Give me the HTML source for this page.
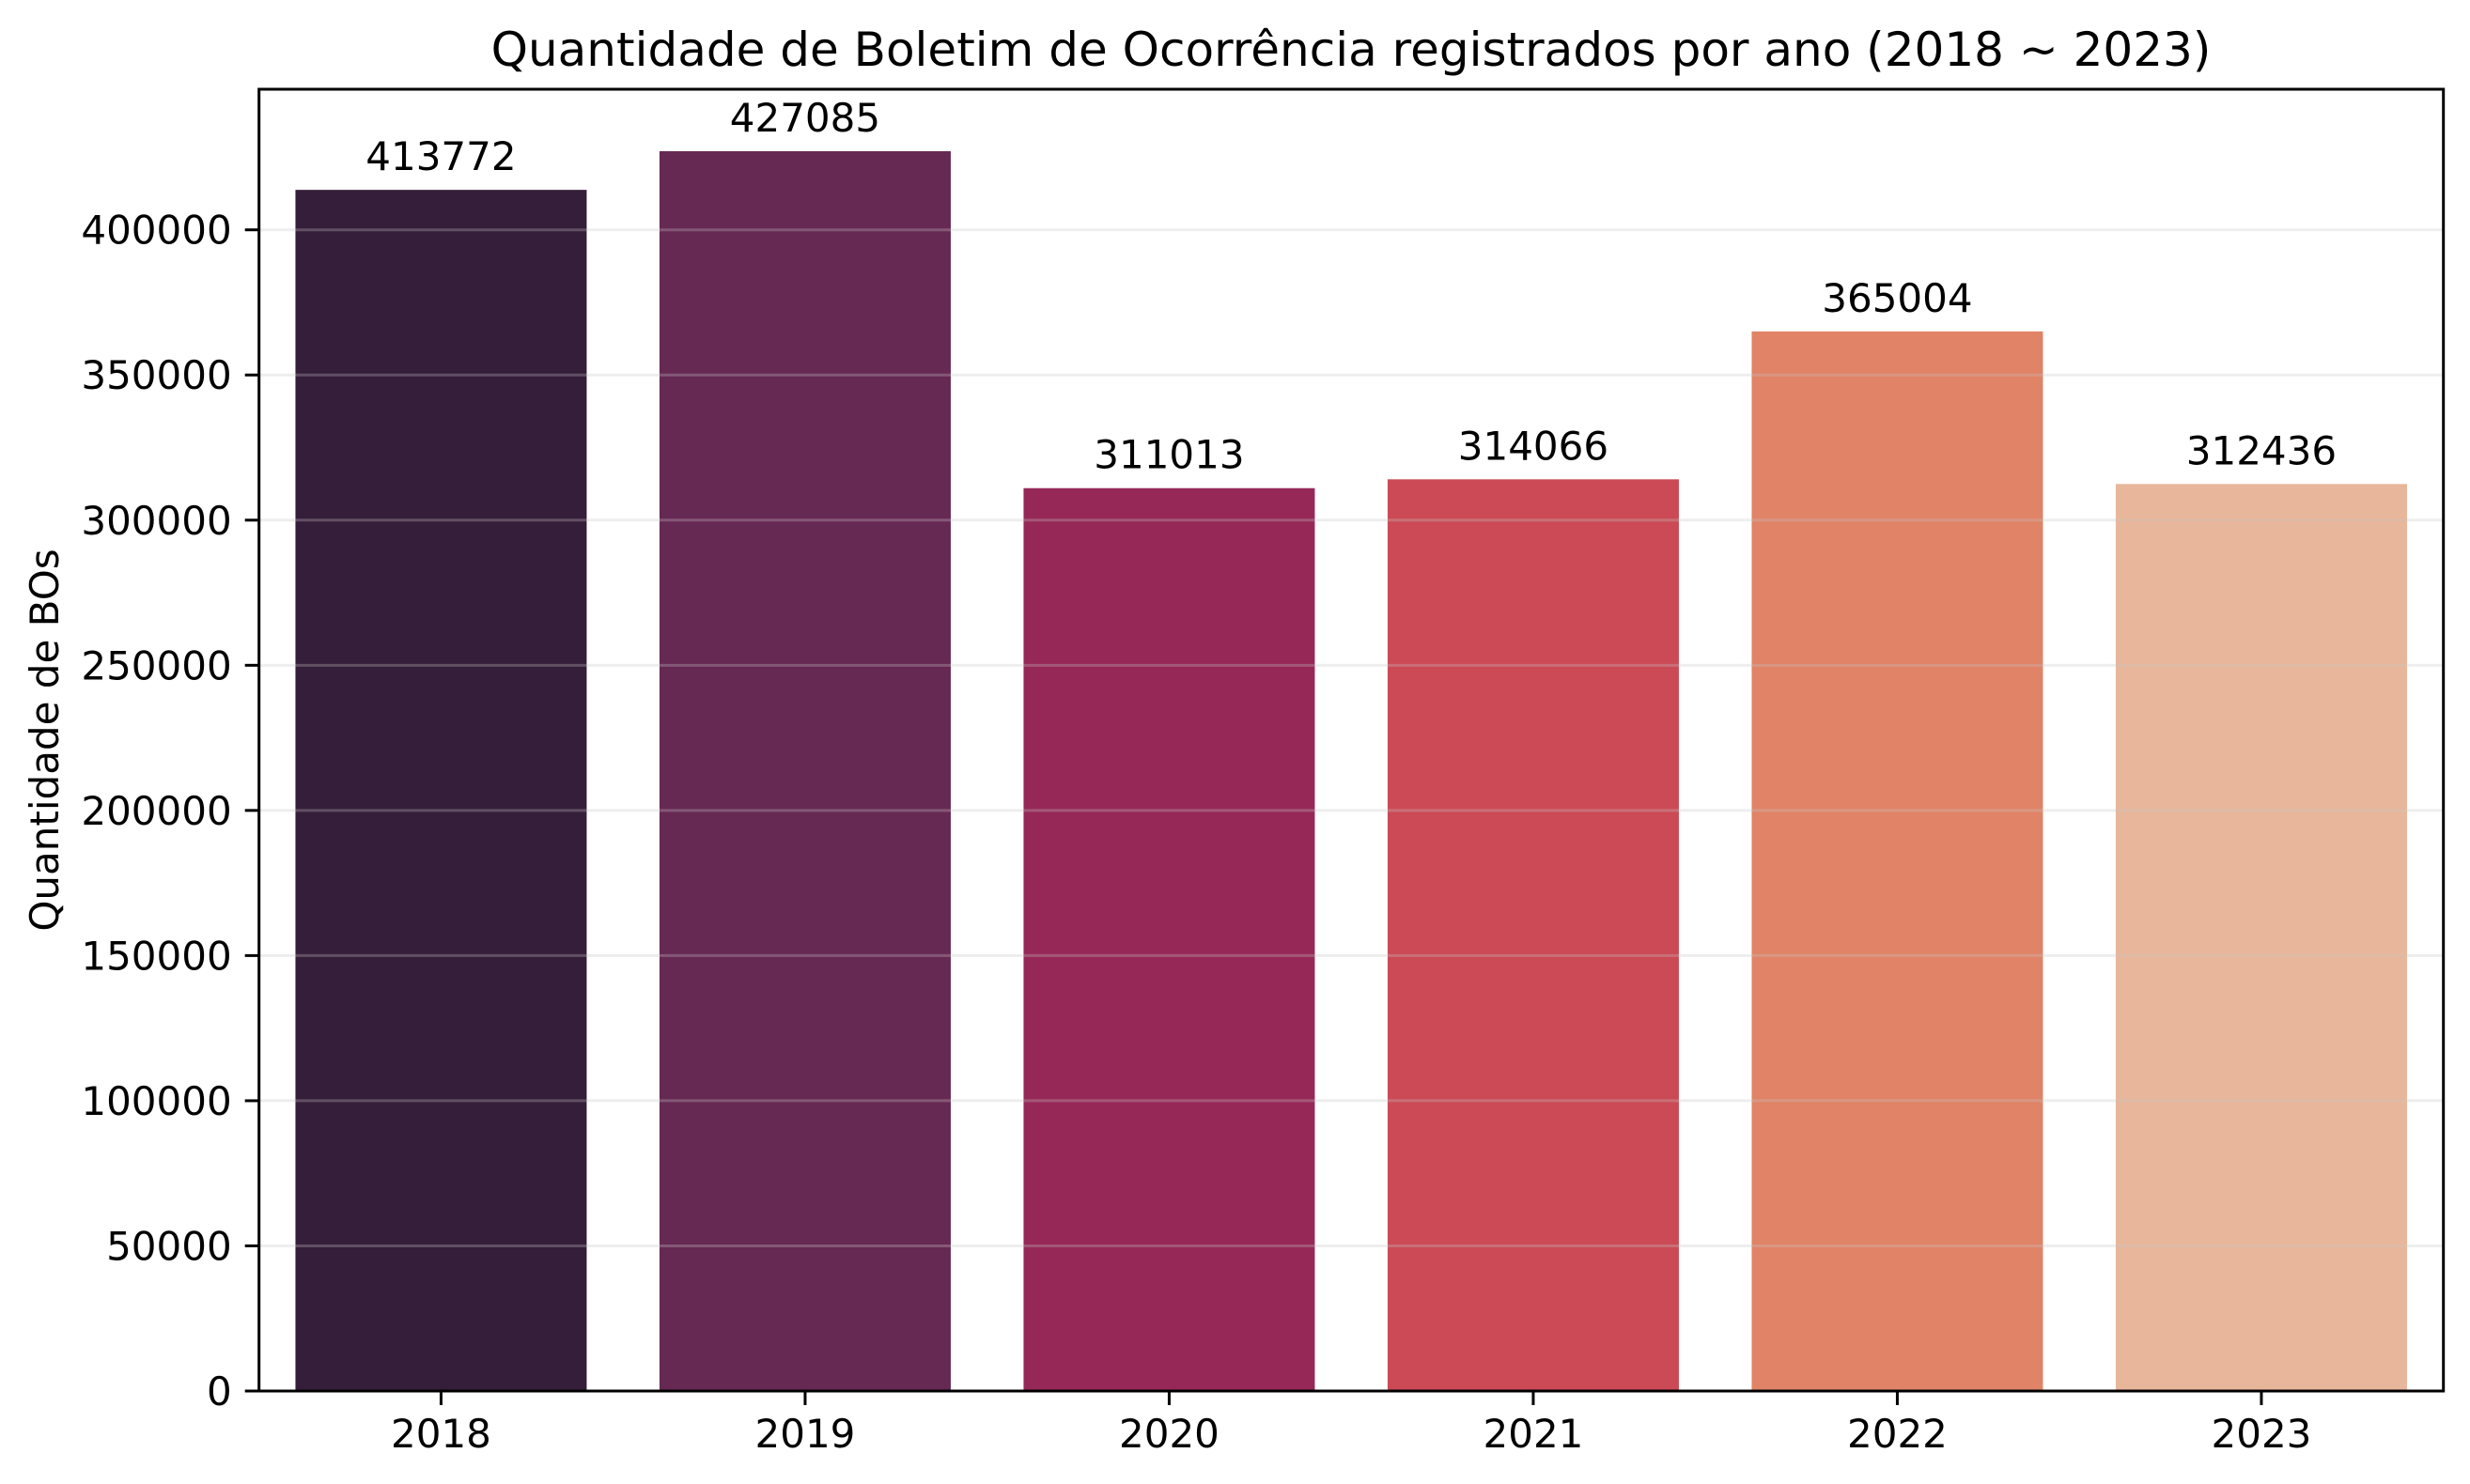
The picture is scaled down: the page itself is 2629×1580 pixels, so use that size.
<!DOCTYPE html>
<html><head><meta charset="utf-8"><style>html,body{margin:0;padding:0;background:#fff}svg{display:block}text{font-family:"DejaVu Sans","Liberation Sans",sans-serif;fill:#000}</style></head>
<body>
<svg id="chart" width="2629" height="1580" xmlns="http://www.w3.org/2000/svg">
<text x="1438" y="70" font-size="50" text-anchor="middle">Quantidade de Boletim de Ocorrência registrados por ano (2018 ~ 2023)</text>
<text transform="translate(62,788) rotate(-90)" font-size="42" text-anchor="middle">Quantidade de BOs</text>
<g id="bars"></g><g id="grid"></g><g id="ticks"></g><g id="labels"></g>
<rect x="275.7" y="95" width="2325" height="1386" fill="none" stroke="#000" stroke-width="3"/>
</svg>
<script>
const categories = ['2018','2019','2020','2021','2022','2023'];
const values = [413772, 427085, 311013, 314066, 365004, 312436];
const colors = ['#351e3a','#662953','#962857','#cb4a55','#e08366','#e8b69a'];
const yTicks = [0,50000,100000,150000,200000,250000,300000,350000,400000];
const L=275.7, R=2600.7, T=95, B=1481;
const yMax = Math.max(...values)*1.05;
const NS='http://www.w3.org/2000/svg';
const step=(R-L)/categories.length;
function xC(i){return L+step*(i+0.5);}
function yS(v){return B-(v/yMax)*(B-T);}
function mk(tag,attrs,parent){const e=document.createElementNS(NS,tag);for(const k in attrs)e.setAttribute(k,attrs[k]);document.getElementById(parent).appendChild(e);return e;}
values.forEach((v,i)=>{
  const w=step*0.8;
  const r=mk('rect',{x:xC(i)-w/2,y:yS(v),width:w,height:B-yS(v),fill:colors[i]},'bars');
  
  
  const t=mk('text',{x:xC(i),y:yS(v)-21,'font-size':42,'text-anchor':'middle'},'labels');
  t.textContent=String(v);
  
  
  const tk=mk('line',{x1:xC(i),x2:xC(i),y1:B,y2:B+15,stroke:'#000','stroke-width':3},'ticks');
  
  
  const xl=mk('text',{x:xC(i),y:1541,'font-size':42,'text-anchor':'middle'},'ticks');
  xl.textContent=categories[i];
  
  
});
yTicks.forEach(v=>{
  const y=yS(v);
  if(v>0){const g=mk('line',{x1:L,x2:R,y1:y,y2:y,stroke:'#c8c8c8','stroke-opacity':0.3,'stroke-width':3},'grid');
  
  }
  const tk=mk('line',{x1:L-15,x2:L,y1:y,y2:y,stroke:'#000','stroke-width':3},'ticks');
  
  
  const t=mk('text',{x:L-29,y:y+15,'font-size':42,'text-anchor':'end'},'ticks');
  t.textContent=String(v);
  
  
});
</script>
</body></html>
